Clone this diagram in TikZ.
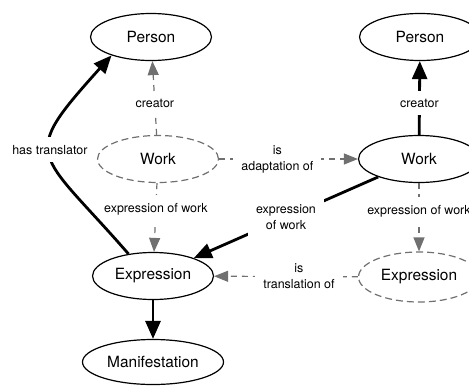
\documentclass[tikz,border=0pt]{standalone}
\usepackage{fontspec}
\setmainfont{TeX Gyre Heros}
\usetikzlibrary{shapes.geometric,arrows.meta}
\definecolor{edgegray}{RGB}{112,112,112}

\begin{document}
\begin{tikzpicture}[x=1bp,y=1bp]
	\tikzstyle{EntityStyle} = [shape=ellipse,draw,line width=1.2bp,inner sep=0pt,minimum width=121bp,minimum height=47bp,font=\fontsize{15.5}{18}\selectfont]
	\tikzstyle{AbsentStyle} = [EntityStyle,draw=edgegray,dash pattern=on 7bp off 4bp]
	\tikzstyle{LinkStyle}   = [-{Triangle[length=18bp,width=15bp]},line width=2.8bp]
	\tikzstyle{HintStyle}   = [-{Triangle[length=14bp,width=11bp]},edgegray,line width=1.2bp,dash pattern=on 6bp off 5bp]
	\tikzstyle{LabelStyle}  = [fill=white,text=black,inner sep=8bp,align=center,font=\fontsize{12.5}{16}\selectfont]

	\clip (0,0) rectangle (469,385);
	\node[EntityStyle] (Person) at (151,348) {Person};
	\node[AbsentStyle] (Work) at (158,226) {Work};
	\node[EntityStyle] (Expression) at (153,109) {Expression};
	\node[EntityStyle,minimum width=141bp,minimum height=45bp] (Manifestation) at (153,23) {Manifestation};
	\node[EntityStyle] (Person2) at (420,348) {Person};
	\node[EntityStyle] (Work2) at (419,226) {Work};
	\node[AbsentStyle,minimum height=50bp] (Expression2) at (419,108) {Expression};

	\draw[HintStyle] (Work) -- node[LabelStyle,pos=.42]{creator} (Person);
	\draw[HintStyle] (Work) -- node[LabelStyle,pos=.38]{expression of work} (Expression);
	\draw[HintStyle] (Work) -- node[LabelStyle,pos=.42]{is\\adaptation of} (Work2);
	\draw[HintStyle] (Expression2) -- node[LabelStyle,pos=.41]{is\\translation of} (Expression);
	\draw[HintStyle] (Work2) -- node[LabelStyle,pos=.41]{expression of work} (Expression2);
	\draw[LinkStyle] (Work2) -- node[LabelStyle,pos=.43]{creator} (Person2);
	\draw[LinkStyle] (Work2) -- node[LabelStyle]{expression\\of work} (Expression);
	\draw[LinkStyle] (Expression) -- (Manifestation);
	\draw[LinkStyle] (Expression.138) .. controls +(131:140) and +(228:140) .. node[LabelStyle,pos=.53]{has translator} (Person.205);
\end{tikzpicture}
\end{document}
